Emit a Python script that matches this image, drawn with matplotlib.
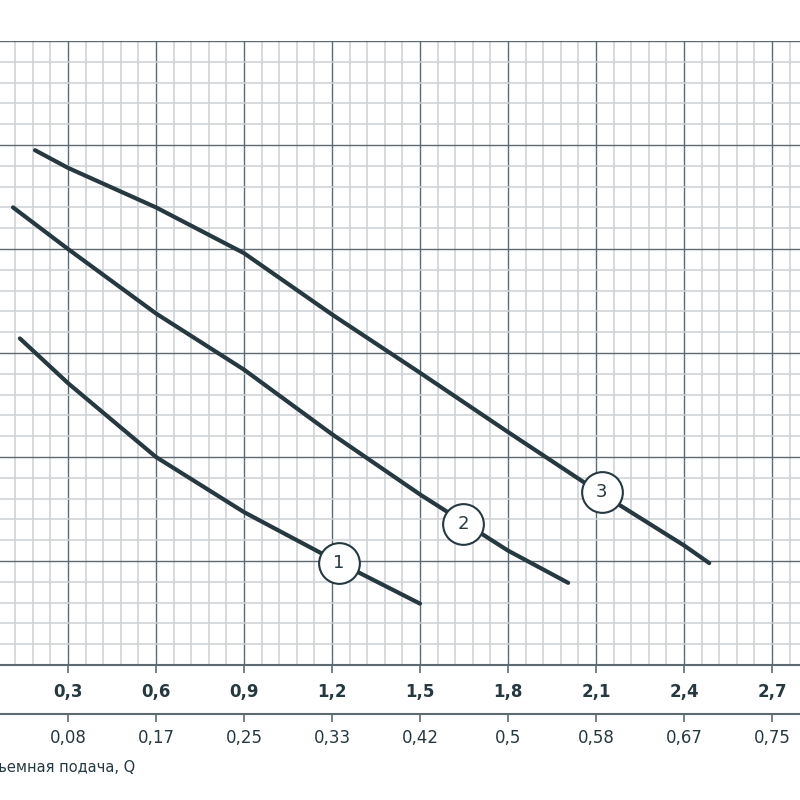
import matplotlib.pyplot as plt
import numpy as np

# pump curves: flow Q (m3/h) vs head H (grid units)
q1 = [0.136, 0.3, 0.6, 0.9, 1.2, 1.5]
h1 = [3.14, 2.71, 2.00, 1.47, 1.02, 0.59]
q2 = [0.1125, 0.3, 0.6, 0.9, 1.2, 1.5, 1.8, 2.005]
h2 = [4.40, 4.00, 3.38, 2.84, 2.22, 1.64, 1.10, 0.79]
q3 = [0.1875, 0.3, 0.6, 0.9, 1.2, 1.5, 1.8, 2.1, 2.4, 2.486]
h3 = [4.95, 4.78, 4.40, 3.96, 3.37, 2.81, 2.24, 1.68, 1.15, 0.98]

curves = [(q1, h1), (q2, h2), (q3, h3)]
marker_q = [1.224, 1.647, 2.12]
marker_h = [0.98, 1.36, 1.66]
marker_txt = ["1", "2", "3"]

q_ticks = [0.3, 0.6, 0.9, 1.2, 1.5, 1.8, 2.1, 2.4, 2.7]
q_labels = ["0,3", "0,6", "0,9", "1,2", "1,5", "1,8", "2,1", "2,4", "2,7"]
ls_labels = ["0,08", "0,17", "0,25", "0,33", "0,42", "0,5", "0,58", "0,67", "0,75"]

dark = "#263840"
major_c = "#5e6a72"
minor_c = "#cbd1d5"


def main():
    fig = plt.figure(figsize=(8, 8), dpi=100)
    ax = fig.add_axes([0.0, 135 / 800, 1.0, 624 / 800])

    ax.set_xticks(np.arange(0, 3.0, 0.3))
    ax.set_xticks(np.arange(0, 3.0, 0.06), minor=True)
    ax.set_yticks(np.arange(0, 7, 1))
    ax.set_yticks(np.arange(0, 6.01, 0.2), minor=True)
    ax.grid(True, which='minor', color=minor_c, linewidth=1.1, zorder=0)
    ax.grid(True, which='major', color=major_c, linewidth=1.0, zorder=1)
    ax.set_axisbelow(True)

    for s in ['left', 'right', 'top']:
        ax.spines[s].set_visible(False)
    ax.spines['bottom'].set_color(major_c)
    ax.spines['bottom'].set_linewidth(1.5)

    ax.set_xticks(q_ticks, q_labels)
    ax.tick_params(axis='x', which='major', direction='out', length=6,
                   width=1.2, color=major_c, pad=7, labelsize=12,
                   labelcolor=dark)
    for lbl in ax.get_xticklabels():
        lbl.set_fontweight('bold')
    ax.tick_params(axis='x', which='minor', length=0)
    ax.tick_params(axis='y', which='both', length=0, labelleft=False)

    # set limits after ticks, set_xticks would widen the view
    ax.set_xlim(20 / 88 * 0.3, 820 / 88 * 0.3)
    ax.set_ylim(0, 6)

    # second scale in l/s
    sec = ax.secondary_xaxis(-49 / 624)
    sec.set_xticks(q_ticks, ls_labels)
    sec.spines['bottom'].set_color(major_c)
    sec.spines['bottom'].set_linewidth(1.5)
    sec.tick_params(axis='x', direction='out', length=6, width=1.2,
                    color=major_c, pad=5, labelsize=12, labelcolor=dark)
    sec.tick_params(axis='x', which='minor', length=0)

    for q, h in curves:
        ax.plot(q, h, color=dark, linewidth=3, solid_capstyle='round',
                zorder=3, clip_on=False)

    ax.scatter(marker_q, marker_h, s=860, facecolor='white',
               edgecolor=dark, linewidth=1.5, zorder=4)
    for mq, mh, t in zip(marker_q, marker_h, marker_txt):
        ax.text(mq, mh, t, ha='center', va='center', fontsize=13,
                color=dark, zorder=5)

    fig.text(135 / 800, 1 - 767 / 800, "Объемная подача, Q", ha='right',
             va='center', fontsize=10.5, color=dark)

    fig.savefig('out.png', dpi=100)


if __name__ == "__main__":
    main()
